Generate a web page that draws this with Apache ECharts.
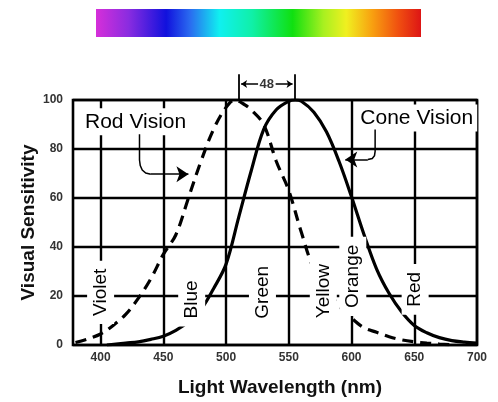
<!DOCTYPE html>
<html>
<head>
<meta charset="utf-8">
<script src="https://cdn.jsdelivr.net/npm/echarts@6/dist/echarts.min.js"></script>
<style>
html,body{margin:0;padding:0;background:#fff;}
#chart{width:498px;height:402px;}
</style>
</head>
<body>
<div id="chart"></div>
<script>
// ---- data ----
var rodWavelengths = [380,390,400,410,420,430,440,450,460,470,480,490,500,507,515,520,530,540,550,560,570,580,590,600,610,620,630,640,650,660,670,680];
var rodSensitivity = [1,2.5,4.5,8,12.5,19,27,37,45,60,75,88,97,100,98,96,90,75,63,46,31,24,16,11,7,5.2,3.4,2.1,1.3,0.8,0.4,0.1];
var coneWavelengths = [405,420,430,440,450,460,470,480,490,500,510,520,530,540,550,555,560,570,580,590,600,610,620,630,640,650,660,670,680,690,700];
var coneSensitivity = [0,0.8,1.3,2.3,3.6,6,9.5,14.5,23,33,52,71,88,96,99.5,100,99.5,95,87,75,60.5,45,31,21,13.5,8,5,3,1.8,1.2,0.8];
var xTickLabels = [400,450,500,550,600,650,700];
var yTickLabels = [0,20,40,60,80,100];
var colorNames = ['Violet','Blue','Green','Yellow','Orange','Red'];
var colorNameX = [400,472.6,529,577.5,601,650.7];
var colorNameY = [21.5,18.6,21.5,22,28,22.7];
var curveNames = ['Rod Vision','Cone Vision'];
var curveNameX = [427.9,652];
var curveNameY = [91.1,92.7];
var rodArrowBend = [[431,86],[431,75.5],[431.6,73.2],[433.2,71.4],[436,70.2],[440,69.7]];
var rodArrowTip = [[440,69.7],[470,69.7]];
var coneArrowBend = [[618.8,88],[618.8,79],[618.3,77.3],[616.5,76.1],[613,75.7]];
var coneArrowTip = [[613,75.7],[595,75.7]];
var peakLeft = 510, peakRight = 555, peakGapLabel = '48';

var FONT = '"Liberation Sans", Arial, Helvetica, sans-serif';
var chart = echarts.init(document.getElementById('chart'), null, {renderer:'canvas'});

var labelData = [];
for (var i = 0; i < colorNames.length; i++) {
  labelData.push({value:[colorNameX[i], colorNameY[i]], name: colorNames[i],
    label:{rotate:90, fontSize:19, padding:[4,8,4,8]}});
}
for (var j = 0; j < curveNames.length; j++) {
  labelData.push({value:[curveNameX[j], curveNameY[j]], name: curveNames[j],
    label:{rotate:0, fontSize:21, padding:[3,4,3,4]}});
}

var option = {
  animation:false,
  backgroundColor:'#fff',
  textStyle:{fontFamily:FONT},
  grid:{left:73, right:21, top:100, bottom:55, show:true, borderColor:'#000', borderWidth:2.6, backgroundColor:'transparent'},
  graphic:[{
    type:'rect', shape:{x:96, y:9, width:325, height:28}, z:10,
    style:{fill:new echarts.graphic.LinearGradient(0,0,1,0,[
      {offset:0, color:'#d62fd9'},
      {offset:0.1, color:'#8a2ce0'},
      {offset:0.216, color:'#1111dd'},
      {offset:0.29, color:'#2a6cf0'},
      {offset:0.38, color:'#10f0f0'},
      {offset:0.48, color:'#10f0a8'},
      {offset:0.605, color:'#10e010'},
      {offset:0.7, color:'#a8f020'},
      {offset:0.77, color:'#f0f020'},
      {offset:0.85, color:'#f8a010'},
      {offset:0.93, color:'#f05010'},
      {offset:1, color:'#dd1515'}
    ])}
  }],
  xAxis:{
    type:'value', min:378, max:700,
    name:'Light Wavelength (nm)', nameLocation:'middle', nameGap:33,
    nameTextStyle:{fontSize:19, fontWeight:'bold', color:'#111', fontFamily:FONT, padding:[0,0,0,10]},
    axisLine:{show:false}, axisTick:{show:false, customValues:xTickLabels},
    axisLabel:{customValues:xTickLabels, margin:7, fontSize:12, fontWeight:'bold', color:'#333', fontFamily:FONT},
    splitLine:{show:true, customValues:xTickLabels, lineStyle:{color:'#000', width:2.4}}
  },
  yAxis:{
    type:'value', min:0, max:100, interval:20,
    name:'Visual Sensitivity', nameLocation:'middle', nameGap:35, nameMoveOverlap:false,
    nameTextStyle:{fontSize:19, fontWeight:'bold', color:'#111', fontFamily:FONT},
    axisLine:{show:false}, axisTick:{show:false},
    axisLabel:{margin:10, fontSize:12, fontWeight:'bold', color:'#333', fontFamily:FONT,
      formatter:function(v){return yTickLabels.indexOf(v) >= 0 ? String(v) : '';}},
    splitLine:{show:true, lineStyle:{color:'#000', width:2.4}}
  },
  series:[
    {type:'line', name:'Rod', smooth:0.35, symbol:'none', z:3,
     data:rodWavelengths.map(function(w,k){return [w, rodSensitivity[k]];}),
     lineStyle:{color:'#000', width:3.2, type:[11,7]}},
    {type:'line', name:'Cone', smooth:0.35, symbol:'none', z:3,
     data:coneWavelengths.map(function(w,k){return [w, coneSensitivity[k]];}),
     lineStyle:{color:'#000', width:3.2}},
    {type:'scatter', name:'labels', z:5, clip:false, symbol:'circle', symbolSize:1,
     itemStyle:{color:'#fff', opacity:1},
     label:{show:true, position:'inside', color:'#000', opacity:1, textBorderWidth:0, textBorderColor:'transparent',
       backgroundColor:'#fff', fontFamily:FONT,
       formatter:function(p){return p.name;}},
     emphasis:{disabled:true},
     data:labelData},
    {type:'lines', coordinateSystem:'cartesian2d', polyline:true, z:6, clip:false,
     lineStyle:{color:'#000', width:1.5, opacity:1},
     data:[{coords:rodArrowBend},{coords:coneArrowBend}]},
    {type:'lines', coordinateSystem:'cartesian2d', z:6, clip:false,
     symbol:['none','arrow'], symbolSize:12,
     lineStyle:{color:'#000', width:1.5, opacity:1},
     data:[{coords:rodArrowTip},{coords:coneArrowTip}]},
    {type:'lines', coordinateSystem:'cartesian2d', z:6, clip:false,
     symbol:['none','none'],
     lineStyle:{color:'#000', width:1.8, opacity:1},
     data:[{coords:[[peakLeft,100],[peakLeft,110.5]]},{coords:[[peakRight,100],[peakRight,110.5]]}]},
    {type:'lines', coordinateSystem:'cartesian2d', z:6, clip:false,
     symbol:['none','arrow'], symbolSize:6,
     lineStyle:{color:'#000', width:1.5, opacity:1},
     data:[{coords:[[(peakLeft+peakRight)/2-7,106.5],[peakLeft+2,106.5]]},{coords:[[(peakLeft+peakRight)/2+7,106.5],[peakRight-2,106.5]]}]},
    {type:'scatter', name:'gap', z:6, clip:false, symbol:'circle', symbolSize:1, itemStyle:{color:'#fff'},
     label:{show:true, position:'inside', fontSize:13, fontWeight:'bold', color:'#000', textBorderWidth:0, fontFamily:FONT,
       formatter:function(){return peakGapLabel;}},
     emphasis:{disabled:true},
     data:[[(peakLeft+peakRight)/2,106.5]]}
  ]
};
chart.setOption(option);
</script>
</body>
</html>
